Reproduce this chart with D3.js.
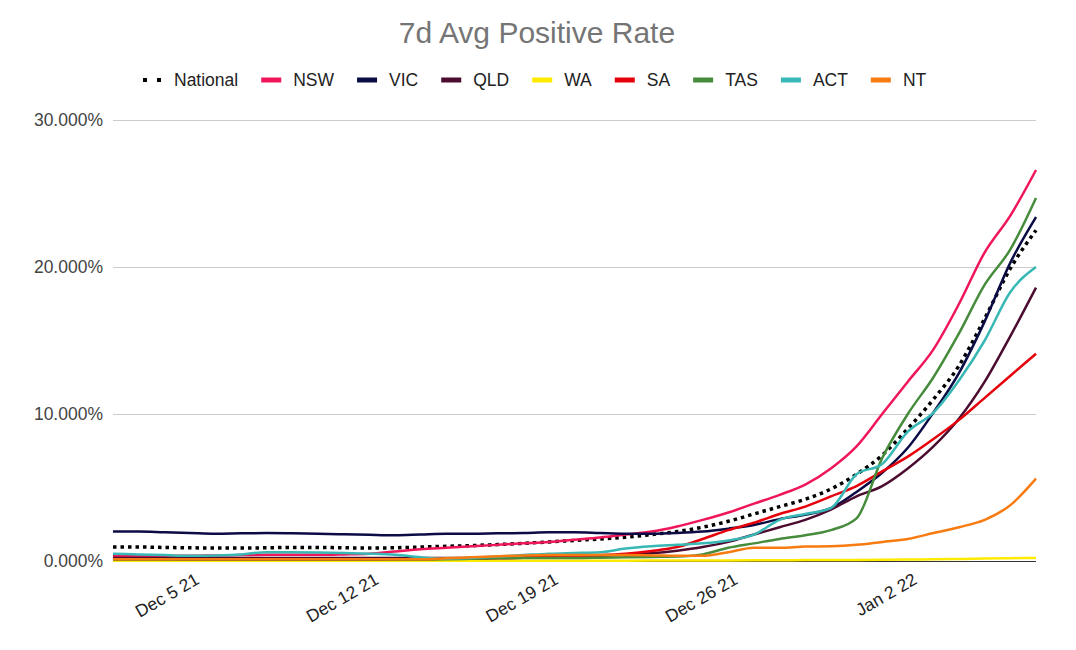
<!DOCTYPE html>
<html>
<head>
<meta charset="utf-8">
<script src="https://cdn.jsdelivr.net/npm/d3@7"></script>
<style>
  body { margin: 0; background: #fff; }
  text { font-family: "Liberation Sans", Arial, sans-serif; }
</style>
</head>
<body>
<div class="canvas"></div>
<script>
const dates = [
  '2021-12-02','2021-12-03','2021-12-04','2021-12-05','2021-12-06','2021-12-07','2021-12-08',
  '2021-12-09','2021-12-10','2021-12-11','2021-12-12','2021-12-13','2021-12-14','2021-12-15',
  '2021-12-16','2021-12-17','2021-12-18','2021-12-19','2021-12-20','2021-12-21','2021-12-22',
  '2021-12-23','2021-12-24','2021-12-25','2021-12-26','2021-12-27','2021-12-28','2021-12-29',
  '2021-12-30','2021-12-31','2022-01-01','2022-01-02','2022-01-03','2022-01-04','2022-01-05',
  '2022-01-06','2022-01-07'
]

// values in percent
const national = [0.95,0.95,0.92,0.9,0.88,0.88,0.9,0.92,0.92,0.9,0.88,0.9,0.95,1.0,1.05,1.12,1.2,1.3,1.4,1.5,1.62,1.8,2.0,2.3,2.7,3.2,3.7,4.2,4.9,5.9,7.2,9.0,11.0,13.3,16.5,19.9,22.5]
const nsw = [0.35,0.35,0.35,0.35,0.38,0.4,0.42,0.42,0.42,0.45,0.5,0.65,0.8,0.9,1.0,1.1,1.2,1.3,1.45,1.6,1.8,2.0,2.35,2.8,3.3,3.9,4.5,5.2,6.3,7.8,10.0,12.2,14.4,17.5,21.0,23.5,26.6]
const vic = [2.0,2.0,1.95,1.9,1.85,1.88,1.9,1.88,1.85,1.82,1.78,1.75,1.8,1.85,1.85,1.88,1.9,1.95,1.95,1.9,1.85,1.85,1.9,2.0,2.2,2.45,2.85,3.15,3.6,4.7,6.0,7.7,10.1,12.8,16.3,20.3,23.4]
const qld = [0.2,0.2,0.2,0.2,0.2,0.2,0.2,0.2,0.2,0.2,0.2,0.2,0.2,0.2,0.22,0.24,0.25,0.28,0.32,0.36,0.42,0.52,0.7,0.95,1.3,1.8,2.3,2.8,3.5,4.4,5.1,6.3,7.8,9.7,12.2,15.3,18.6]
const wa = [0.02,0.02,0.02,0.02,0.02,0.02,0.02,0.02,0.02,0.02,0.02,0.02,0.02,0.02,0.02,0.02,0.02,0.02,0.02,0.02,0.02,0.03,0.03,0.04,0.04,0.05,0.05,0.06,0.06,0.07,0.08,0.1,0.12,0.14,0.17,0.19,0.21]
const sa = [0.12,0.12,0.12,0.1,0.1,0.1,0.1,0.1,0.1,0.1,0.1,0.12,0.12,0.15,0.15,0.18,0.22,0.28,0.34,0.4,0.5,0.68,0.95,1.5,2.1,2.6,3.2,3.7,4.4,5.1,6.1,7.1,8.3,9.6,11.1,12.6,14.1]
const tas = [0.1,0.1,0.1,0.1,0.1,0.1,0.1,0.1,0.1,0.1,0.1,0.1,0.1,0.12,0.15,0.18,0.2,0.2,0.2,0.22,0.25,0.28,0.3,0.45,0.9,1.2,1.5,1.75,2.1,2.9,7.0,10.0,12.5,15.5,18.8,21.2,24.7]
const act = [0.5,0.45,0.4,0.35,0.38,0.45,0.6,0.6,0.58,0.55,0.5,0.42,0.25,0.15,0.2,0.3,0.4,0.5,0.55,0.6,0.85,1.0,1.1,1.2,1.4,1.8,2.8,3.2,3.6,5.9,6.6,8.8,10.1,12.3,15.0,18.3,20.0]
const nt = [0.12,0.12,0.12,0.12,0.12,0.12,0.12,0.12,0.12,0.12,0.12,0.12,0.12,0.18,0.25,0.32,0.38,0.4,0.4,0.4,0.4,0.38,0.35,0.35,0.6,0.9,0.9,0.98,1.0,1.1,1.3,1.5,1.9,2.3,2.8,3.8,5.6]

const seriesNames = ['National', 'NSW', 'VIC', 'QLD', 'WA', 'SA', 'TAS', 'ACT', 'NT']
const seriesValues = [national, nsw, vic, qld, wa, sa, tas, act, nt]
const seriesColors = ['#000000', '#f0165a', '#0b0b45', '#4b0c30', '#ffea00', '#e6000b', '#468c3c', '#38b8b5', '#f77b10']

const yTicks = [0, 10, 20, 30]
const xTicks = ['2021-12-05', '2021-12-12', '2021-12-19', '2021-12-26', '2022-01-02']

const width = 1076
const height = 650
const margin = { top: 120, right: 40, bottom: 89, left: 113 }

const parse = d3.timeParse('%Y-%m-%d')
const days = dates.map(parse)

const svg = d3.select('.canvas').append('svg')
  .attr('width', width)
  .attr('height', height)

svg.append('rect')
  .attr('width', width)
  .attr('height', height)
  .attr('fill', '#fff')

const x = d3.scaleTime()
  .domain(d3.extent(days))
  .range([margin.left, width - margin.right])

const y = d3.scaleLinear()
  .domain([0, 30])
  .range([height - margin.bottom, margin.top])

// title
svg.append('text')
  .attr('x', 537)
  .attr('y', 43)
  .attr('text-anchor', 'middle')
  .attr('font-size', 30)
  .attr('fill', '#757575')
  .text('7d Avg Positive Rate')

// gridlines + y labels
const yAxis = d3.axisLeft(y)
  .tickValues(yTicks)
  .tickSize(-(width - margin.left - margin.right))
  .tickPadding(10)
  .tickFormat(d => d3.format('.3f')(d) + '%')

const yAxisGroup = svg.append('g')
  .attr('transform', `translate(${margin.left},0)`)
  .call(yAxis)

yAxisGroup.select('.domain').remove()
yAxisGroup.selectAll('line')
  .attr('stroke', d => d === 0 ? '#333' : '#ccc')
yAxisGroup.selectAll('text')
  .attr('font-size', 17.5)
  .attr('fill', '#444')
  .attr('font-family', '"Liberation Sans", Arial, sans-serif')

// x labels, slanted
const xAxis = d3.axisBottom(x)
  .tickValues(xTicks.map(parse))
  .tickSize(0)
  .tickFormat(d3.timeFormat('%b %-d %y'))

const xAxisGroup = svg.append('g')
  .attr('transform', `translate(0,${height - margin.bottom})`)
  .call(xAxis)

xAxisGroup.select('.domain').remove()
xAxisGroup.selectAll('text')
  .attr('font-size', 17.5)
  .attr('fill', '#222')
  .attr('font-family', '"Liberation Sans", Arial, sans-serif')
  .attr('text-anchor', 'end')
  .attr('y', 0)
  .attr('dy', 0)
  .attr('transform', 'translate(10,22) rotate(-30)')

// lines
const line = d3.line()
  .x((d, i) => x(days[i]))
  .y(d => y(d))
  .curve(d3.curveMonotoneX)

const plot = svg.append('g')

seriesValues.forEach((vals, i) => {
  plot.append('path')
    .datum(vals)
    .attr('fill', 'none')
    .attr('stroke', seriesColors[i])
    .attr('stroke-width', i === 0 ? 3.5 : 2.5)
    .attr('stroke-dasharray', i === 0 ? '3.5,4' : null)
    .attr('stroke-linejoin', 'round')
    .attr('d', line)
})

// legend
const legend = svg.append('g')
let lx = 142
seriesNames.forEach((name, i) => {
  const item = legend.append('g').attr('transform', `translate(${lx},80)`)
  if (i === 0) {
    item.append('rect').attr('x', 1).attr('y', -2).attr('width', 4).attr('height', 4).attr('fill', '#000')
    item.append('rect').attr('x', 15).attr('y', -2).attr('width', 4).attr('height', 4).attr('fill', '#000')
  } else {
    item.append('rect').attr('x', 0).attr('y', -2.5).attr('width', 20).attr('height', 5).attr('fill', seriesColors[i])
  }
  const t = item.append('text')
    .attr('x', 32)
    .attr('dy', '0.35em')
    .attr('font-size', 17.5)
    .attr('fill', '#222')
    .text(name)
  lx += 32 + t.node().getComputedTextLength() + 23
})
</script>
</body>
</html>
